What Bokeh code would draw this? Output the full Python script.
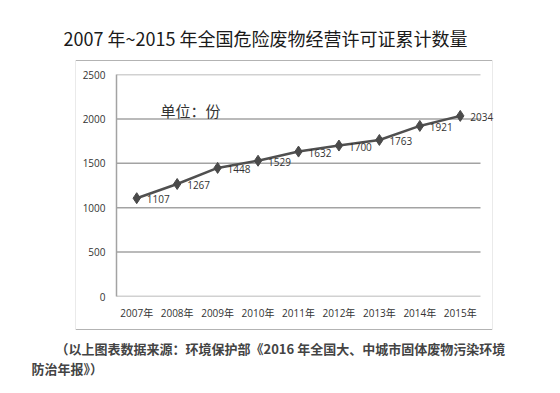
from bokeh.plotting import figure
from bokeh.models import Range1d, FixedTicker, Label, ColumnDataSource
from bokeh.core.properties import value
from bokeh.embed import file_html
from bokeh.resources import INLINE

years = ["2007年", "2008年", "2009年", "2010年", "2011年", "2012年", "2013年", "2014年", "2015年"]
counts = [1107, 1267, 1448, 1529, 1632, 1700, 1763, 1921, 2034]
y_ticks = [0, 500, 1000, 1500, 2000, 2500]
title_text = "2007 年~2015 年全国危险废物经营许可证累计数量"
unit_text = "单位：份"
caption_1 = "（以上图表数据来源：环境保护部《2016 年全国大、中城市固体废物污染环境"
caption_2 = "防治年报》）"

LAT = "Open Sans, Noto Sans CJK SC"
CJK = "Noto Sans CJK SC"

nf = len(years)
xpos = [i + 0.5 for i in range(nf)]
src = ColumnDataSource(dict(x=xpos, y=counts, t=[str(c) for c in counts]))

# page pixels: plot area x 116..480 (categories), y 74..296; frame extends right to 495 so the last label fits
FL, PR, FT, FB, FR = 116, 480, 74, 296, 495
W, H = 560, 393
x_end = nf * (FR - FL) / (PR - FL)
p = figure(width=W, height=H, output_backend="svg", toolbar_location=None,
           x_range=Range1d(0, x_end), y_range=Range1d(0, y_ticks[-1]),
           min_border_left=FL, min_border_right=W - FR, min_border_top=FT, min_border_bottom=H - FB,
           background_fill_color="white", border_fill_color="white")
p.outline_line_color = None
p.grid.grid_line_color = None

# horizontal grid lines spanning only the category area
p.segment(x0=[0] * len(y_ticks), x1=[nf] * len(y_ticks), y0=y_ticks, y1=y_ticks,
          line_color="#a3a3a3", line_width=1.5)

p.yaxis.ticker = FixedTicker(ticks=y_ticks)
p.xaxis.ticker = FixedTicker(ticks=xpos)
p.xaxis.major_label_overrides = {x: lab for x, lab in zip(xpos, years)}
for ax in (p.xaxis[0], p.yaxis[0]):
    ax.major_tick_out = 0
    ax.major_tick_in = 0
    ax.minor_tick_out = 0
    ax.minor_tick_in = 0
    ax.major_label_text_font = LAT
    ax.major_label_text_font_size = "10px"
    ax.major_label_text_color = "#333333"
p.yaxis.axis_line_color = "#a3a3a3"
p.yaxis.axis_line_width = 1.5
p.xaxis.axis_line_color = None
p.yaxis.major_label_standoff = 11
p.xaxis.major_label_standoff = 9

p.line("x", "y", source=src, line_color="#505050", line_width=2.5)
p.scatter("x", "y", source=src, marker="diamond", size=11, fill_color="#4a4a4a", line_color="#4a4a4a")
p.text("x", "y", text="t", source=src, x_offset=10, y_offset=1, text_font=value(LAT),
       text_font_size="10px", text_color="#333333", text_baseline="middle", text_align="left")

# page pixels -> data coordinates for annotations outside the frame
def dx(px):
    return (px - FL) / (PR - FL) * nf
def dy(py):
    return (FB - py) / (FB - FT) * y_ticks[-1]

# outer box made of four thin bars (Labels in side panels are not clipped)
BX0, BX1, BY0, BY1 = 75, 492, 60, 329
hw, hh = (BX1 - BX0) // 2, (BY1 - BY0) // 2
bar = dict(text=" ", text_font_size="1px", background_fill_color="#b3b3b3", border_line_color=None,
           text_align="center", text_baseline="middle")
p.add_layout(Label(x=dx((BX0 + BX1) / 2), y=dy(BY0), padding=(hw, 0), **bar), "above")
p.add_layout(Label(x=dx((BX0 + BX1) / 2), y=dy(BY1), padding=(hw, 0), **bar), "below")
p.add_layout(Label(x=dx(BX0), y=dy((BY0 + BY1) / 2), padding=(0, hh), **bar), "left")
p.add_layout(Label(x=dx(BX1), y=dy((BY0 + BY1) / 2), padding=(0, hh), **bar), "right")

p.add_layout(Label(x=dx(265), y=dy(37), text=title_text,
                   text_font=CJK, text_font_size="18px", text_color="#1a1a1a",
                   text_align="center", text_baseline="middle"), "above")
p.add_layout(Label(x=dx(160), y=dy(110), text=unit_text,
                   text_font=CJK, text_font_size="15px", text_color="#333333",
                   text_align="left", text_baseline="middle"), "left")
p.add_layout(Label(x=dx(55), y=dy(348), text=caption_1,
                   text_font=CJK, text_font_size="13px", text_color="#444444", text_font_style="bold",
                   text_align="left", text_baseline="middle"), "below")
p.add_layout(Label(x=dx(31), y=dy(368), text=caption_2,
                   text_font=CJK, text_font_size="13px", text_color="#444444", text_font_style="bold",
                   text_align="left", text_baseline="middle"), "below")

open("out.html", "w").write(file_html(p, INLINE))
